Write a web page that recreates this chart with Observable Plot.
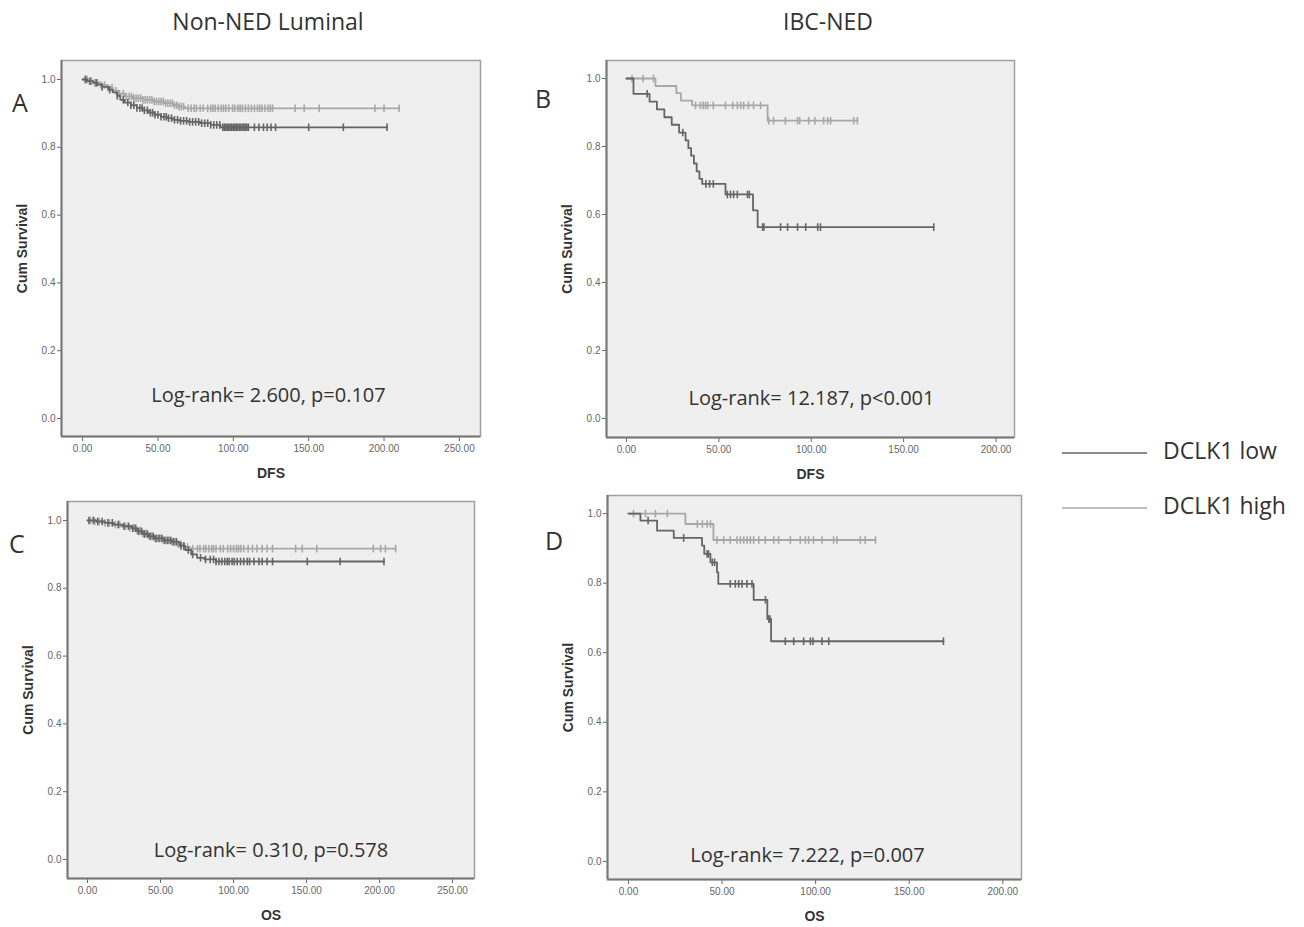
<!DOCTYPE html>
<html>
<head>
<meta charset="utf-8">
<script src="https://cdn.jsdelivr.net/npm/d3@7"></script>
<script src="https://cdn.jsdelivr.net/npm/@observablehq/plot@0.6"></script>
<style>
  html, body { margin: 0; padding: 0; background: #ffffff; }
  #page { position: relative; width: 1304px; height: 927px; overflow: hidden; background: #fff; }
  .panel { position: absolute; }
  #overlay { position: absolute; left: 0; top: 0; pointer-events: none; }
</style>
</head>
<body>
<div id="page"></div>
<script>
// ---------------- DATA ----------------
const columnTitles = ["Non-NED Luminal", "IBC-NED"];
const panelLetters = ["A", "B", "C", "D"];
const groupNames = ["DCLK1 low", "DCLK1 high"];
const yLabel = "Cum Survival";
const xLabels = ["DFS", "DFS", "OS", "OS"];
const logRankTexts = [
  "Log-rank= 2.600, p=0.107",
  "Log-rank= 12.187, p<0.001",
  "Log-rank= 0.310, p=0.578",
  "Log-rank= 7.222, p=0.007"
];
const yTicks = [0, 0.2, 0.4, 0.6, 0.8, 1.0];
const xTicksLuminal = [0, 50, 100, 150, 200, 250];
const xTicksIBC = [0, 50, 100, 150, 200];

// Panel A: DFS, Non-NED Luminal  ([time, cumulative survival] at each event)
const aLowSteps = [[0,1],[3,0.995],[7,0.99],[10,0.985],[13,0.978],[17,0.97],[20,0.962],[23,0.952],[25,0.94],[28,0.932],[32,0.924],[36,0.916],[40,0.909],[44,0.902],[48,0.896],[52,0.89],[56,0.886],[60,0.881],[64,0.878],[70,0.875],[78,0.871],[85,0.866],[91.5,0.859]];
const aHighSteps = [[0,1],[4,0.995],[8,0.99],[12,0.984],[16,0.976],[20,0.967],[24,0.958],[28,0.95],[33,0.945],[40,0.94],[47,0.935],[54,0.93],[60,0.924],[64,0.92],[68,0.915]];
const aLowCensored = [2,5,9,13,18,23,27,30,32,34,36,38,39.5,41,43,45,46.5,48,50,52,54,55.5,57,59,61,63,65,67,69,71,73,75,77,79,81,83,85,87,89,91,93,94,95,96,97,98,99,100,101,102,103,104,105,106,107,108,109,110,114,117,120,122.5,125,128,150,173,202];
const aHighCensored = [1.5,3,4.5,6,8,10,12,14.5,17,19.5,22,24.5,27,29,31,32.5,34,35.5,37,38.5,40,41.5,43,44.5,46,47.5,49,50.5,52,53.5,55,56.5,58,59.5,61,62.5,64,65.5,67,70,72,74,75.5,78,80,83,85,86.5,88,90,92,93.5,95,97,99.5,101,103,104.5,106,108,110,112,114,116,117.5,119,121,123,124.5,126,141,147,157,194,200,210];

// Panel B: DFS, IBC-NED
const bLowSteps = [[0,1],[3.8,0.955],[12.5,0.932],[16.5,0.909],[20.5,0.886],[24.5,0.864],[28.5,0.841],[32,0.818],[33.5,0.795],[35,0.773],[36.5,0.75],[38,0.727],[39.5,0.705],[41,0.69],[53.6,0.659],[68.5,0.612],[71,0.563]];
const bHighSteps = [[0,1],[15.7,0.978],[27,0.957],[29.5,0.935],[35.5,0.921],[76.4,0.876]];
const bLowCensored = [11.2,30.5,43,45,47,54.6,56.3,58,60,65.5,66.5,73.7,74.4,83.4,87.2,92.6,97,103.5,105,166.3];
const bHighCensored = [3,9,14.6,37.4,40,41.5,42.8,44,47,53.6,57.5,60,61.8,63.4,66,68.8,72.6,77,79.6,86,92.6,93.7,98.6,102,106.7,108.9,110.5,123,125];

// Panel C: OS, Non-NED Luminal
const cLowSteps = [[0,1],[6,0.997],[12,0.993],[18,0.988],[24,0.983],[30,0.977],[34,0.968],[38,0.96],[42,0.953],[46,0.947],[52,0.941],[58,0.937],[63,0.925],[67,0.913],[71,0.9],[75,0.89],[80,0.885],[88,0.879]];
const cHighSteps = [[0,1],[5,0.997],[11,0.993],[17,0.988],[23,0.983],[29,0.978],[33,0.97],[37,0.962],[41,0.955],[46,0.948],[52,0.942],[58,0.937],[62,0.93],[66,0.922],[70,0.917]];
const cLowCensored = [1,4,7,10,14,17,21,25,28,31,33,35,37,39,41,43,45,47,49,51,53,55,57,59,61,64,66,69,72,77.4,80.8,84,86.3,88,90,92,94,95.7,97,99,100.5,102.5,104.8,107,109.4,111,114,117.4,119.6,123,126.7,150.5,173,203];
const cHighCensored = [2,5,8,12,15,19,22,26,29,32,34,36,38,40,42,44,46,48,50,52,54,56,58,60,62,64,66,68.5,72,75.3,77,79.5,81,83,85,86.3,88,91,93,96,98,100,102,103.4,105,107,110,113,116,119.6,123,126.7,142.5,147,157,195.7,200.7,204,211];

// Panel D: OS, IBC-NED
const dLowSteps = [[0,1],[6.4,0.98],[15.3,0.951],[24.2,0.93],[39.3,0.908],[40.5,0.884],[43.8,0.86],[47.3,0.831],[48,0.798],[66.9,0.752],[74.2,0.697],[76.2,0.633]];
const dHighSteps = [[0,1],[30.4,0.97],[45.4,0.924]];
const dLowCensored = [10.5,29.5,42,42.8,44.8,46,54.4,57.1,58.9,60.7,63.3,66,73.2,75,75.6,83.8,88.3,93.6,97.2,98.6,103.4,107,168.3];
const dHighCensored = [2.7,9.1,14.4,20.8,36.8,39.5,42,43.8,47.3,50.9,54.4,58,59.8,61.6,63.3,65.1,66.9,69.6,73.1,77.6,80.2,86.5,91.8,94.5,96.3,98.9,103.4,109.6,111.4,123.9,126.5,132];

// ---------------- STYLE / LAYOUT ----------------
const colors = {"DCLK1 low": "#656565", "DCLK1 high": "#a8a8a8"};
const textColor = "#333333";
const tickFont = "'Liberation Sans', Arial, sans-serif";
const bodyFont = "'Open Sans', 'Noto Sans', sans-serif";

const panels = [
  {steps: [aLowSteps, aHighSteps], cens: [aLowCensored, aHighCensored], xTicks: xTicksLuminal,
   box: {left: 0, top: 40, width: 500, height: 450}, margin: {l: 61, r: 20, t: 20, b: 54},
   xDomain: [-14, 264], yDomain: [-0.053, 1.056], note: {dx: -2.5, dy: -41}},
  {steps: [bLowSteps, bHighSteps], cens: [bLowCensored, bHighCensored], xTicks: xTicksIBC,
   box: {left: 520, top: 40, width: 510, height: 450}, margin: {l: 86, r: 16, t: 20, b: 53},
   xDomain: [-10.8, 210], yDomain: [-0.056, 1.053], note: {dx: 1, dy: -39}},
  {steps: [cLowSteps, cHighSteps], cens: [cLowCensored, cHighCensored], xTicks: xTicksLuminal,
   box: {left: 0, top: 480, width: 500, height: 440}, margin: {l: 67, r: 26, t: 21, b: 42},
   xDomain: [-13.7, 265], yDomain: [-0.056, 1.056], note: {dx: 0, dy: -28}},
  {steps: [dLowSteps, dHighSteps], cens: [dLowCensored, dHighCensored], xTicks: xTicksIBC,
   box: {left: 520, top: 480, width: 510, height: 440}, margin: {l: 87, r: 9, t: 15, b: 41},
   xDomain: [-11.2, 210], yDomain: [-0.052, 1.052], note: {dx: -7, dy: -24}}
];

// ---------------- HELPERS ----------------
function survAt(steps, t) {
  let s = steps[0][1];
  for (const [tt, ss] of steps) if (tt <= t) s = ss;
  return s;
}
function buildSeries(steps, cens, group) {
  const lastT = Math.max(d3.max(cens), steps[steps.length - 1][0]);
  const line = steps.map(([t, s]) => ({t, s, group}));
  line.push({t: lastT, s: steps[steps.length - 1][1], group});
  const marks = cens.map(t => ({t, s: survAt(steps, t), group}));
  return {line, marks};
}
const vtick = {
  draw(context, size) {
    const r = Math.sqrt(size / Math.PI);
    context.moveTo(0, -r);
    context.lineTo(0, r);
  }
};

const page = document.getElementById("page");

panels.forEach((p, i) => {
  const series = groupNames.map((g, k) => buildSeries(p.steps[k], p.cens[k], g));
  const marks = [
    Plot.frame({fill: "#efefef", stroke: "#a0a0a0", strokeWidth: 1.5}),
    Plot.ruleX([p.xDomain[0]], {stroke: "#777", strokeWidth: 2}),
    Plot.ruleY([p.yDomain[0]], {stroke: "#777", strokeWidth: 2})
  ];
  // draw high (light) first, low (dark) on top
  [1, 0].forEach(k => {
    const g = groupNames[k];
    marks.push(Plot.line(series[k].line, {x: "t", y: "s", curve: "step-after", stroke: colors[g], strokeWidth: 1.8}));
    marks.push(Plot.dot(series[k].marks, {x: "t", y: "s", symbol: vtick, r: 3.8, stroke: colors[g], strokeWidth: 1.6, fill: "none"}));
  });
  marks.push(Plot.text([logRankTexts[i]], {frameAnchor: "bottom", dx: p.note.dx, dy: p.note.dy, lineAnchor: "middle",
    fontFamily: bodyFont, fontSize: 20, fill: textColor}));
  marks.push(Plot.text([yLabel], {frameAnchor: "left", rotate: -90, dx: -38.5, lineAnchor: "middle", textAnchor: "middle",
    fontFamily: tickFont, fontSize: 14, fontWeight: "bold", fill: textColor}));
  marks.push(Plot.text([xLabels[i]], {frameAnchor: "bottom", dy: 37, lineAnchor: "middle", textAnchor: "middle",
    fontFamily: tickFont, fontSize: 14, fontWeight: "bold", fill: textColor}));

  const chart = Plot.plot({
    width: p.box.width,
    height: p.box.height,
    marginLeft: p.margin.l,
    marginRight: p.margin.r,
    marginTop: p.margin.t,
    marginBottom: p.margin.b,
    style: {fontFamily: tickFont, fontSize: "10px", color: "#666", background: "transparent", overflow: "visible"},
    x: {domain: p.xDomain, ticks: p.xTicks, tickFormat: d3.format(".2f"), tickSize: 5, tickPadding: 3, label: null},
    y: {domain: p.yDomain, ticks: yTicks, tickFormat: d3.format(".1f"), tickSize: 4, tickPadding: 2, label: null},
    marks
  });
  chart.classList.add("panel");
  chart.style.left = p.box.left + "px";
  chart.style.top = p.box.top + "px";
  chart.style.position = "absolute";
  page.appendChild(chart);
});

// ---------------- TITLES, PANEL LETTERS, LEGEND ----------------
const overlay = d3.select(page).append("svg")
  .attr("id", "overlay").attr("width", 1304).attr("height", 927)
  .style("font-family", bodyFont).style("fill", textColor);

const titlePos = [{x: 268, y: 30}, {x: 828, y: 30}];
columnTitles.forEach((t, i) => {
  overlay.append("text").attr("x", titlePos[i].x).attr("y", titlePos[i].y)
    .attr("text-anchor", "middle").attr("font-size", 23).text(t);
});
const letterPos = [{x: 12, y: 112}, {x: 535, y: 108}, {x: 9, y: 553}, {x: 545, y: 550}];
panelLetters.forEach((t, i) => {
  overlay.append("text").attr("x", letterPos[i].x).attr("y", letterPos[i].y)
    .attr("font-size", 25).text(t);
});
const legendPos = [{y: 453, ty: 459}, {y: 508, ty: 514}];
groupNames.forEach((g, i) => {
  overlay.append("line").attr("x1", 1062).attr("x2", 1147)
    .attr("y1", legendPos[i].y).attr("y2", legendPos[i].y)
    .attr("stroke", colors[g]).attr("stroke-width", 1.6);
  overlay.append("text").attr("x", 1163).attr("y", legendPos[i].ty)
    .attr("font-size", 23).text(g);
});
</script>
</body>
</html>
